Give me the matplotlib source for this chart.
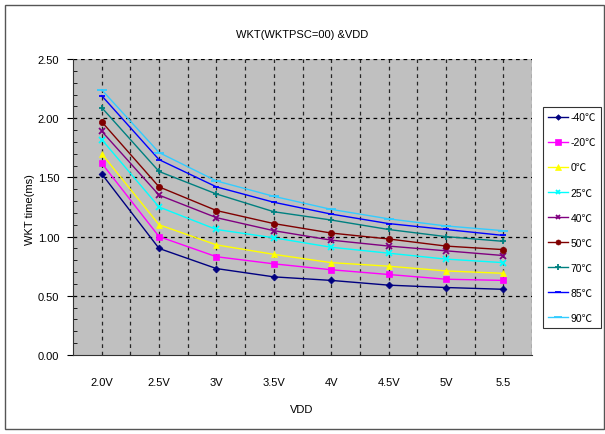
import matplotlib
matplotlib.use("Agg")
import matplotlib.pyplot as plt
from matplotlib.patches import Rectangle
import numpy as np

categories = ["2.0V", "2.5V", "3V", "3.5V", "4V", "4.5V", "5V", "5.5"]
series_names = ["-40℃", "-20℃", "0℃", "25℃", "40℃", "50℃", "70℃", "85℃", "90℃"]
t_m40 = [1.53, 0.90, 0.73, 0.66, 0.63, 0.59, 0.57, 0.555]
t_m20 = [1.62, 1.00, 0.83, 0.77, 0.72, 0.68, 0.64, 0.63]
t_0   = [1.70, 1.10, 0.93, 0.85, 0.78, 0.75, 0.71, 0.69]
t_25  = [1.82, 1.25, 1.06, 0.99, 0.91, 0.86, 0.81, 0.78]
t_40  = [1.89, 1.35, 1.16, 1.05, 0.97, 0.92, 0.88, 0.84]
t_50  = [1.97, 1.42, 1.22, 1.11, 1.03, 0.98, 0.92, 0.89]
t_70  = [2.09, 1.55, 1.36, 1.21, 1.14, 1.06, 1.00, 0.96]
t_85  = [2.19, 1.65, 1.42, 1.29, 1.19, 1.11, 1.06, 1.01]
t_90  = [2.24, 1.71, 1.47, 1.34, 1.23, 1.15, 1.09, 1.05]
series = [t_m40, t_m20, t_0, t_25, t_40, t_50, t_70, t_85, t_90]

colors = ["#000080", "#FF00FF", "#FFFF00", "#00FFFF", "#800080",
          "#800000", "#008080", "#0000FF", "#33CCFF"]
markers = ["D", "s", "^", "x", "x", "o", "+", "_", "_"]
msizes = [3.5, 5, 5, 4, 4, 4.5, 5, 5, 7]

plt.rcParams['font.family'] = ['Liberation Sans', 'Noto Sans CJK SC', 'DejaVu Sans']

fig = plt.figure(figsize=(6.05, 4.35), dpi=100)
fig.patches.append(Rectangle((5/605, 5/435), 599/605, 424/435, transform=fig.transFigure,
                             fill=False, edgecolor="#555555", linewidth=1.0))
ax = fig.add_axes([73/605, 1-356/435, (532-73)/605, (356-60)/435])
ax.set_facecolor("#C0C0C0")

x = np.arange(len(categories))
handles = []
for name, vals, c, m, ms in zip(series_names, series, colors, markers, msizes):
    h, = ax.plot(x, vals, color=c, marker=m, markersize=ms, linewidth=1.0,
                 markeredgewidth=1.3 if m in ("x", "+", "_") else 0.5,
                 markeredgecolor=c, label=name, zorder=3)
    handles.append(h)

ax.set_xlim(-0.5, len(categories) - 0.5)
ax.set_ylim(0, 2.5)
ax.set_yticks(np.arange(0, 2.51, 0.5))
ax.set_yticks(np.arange(0, 2.51, 0.1), minor=True)
ax.set_yticklabels([f"{v:.2f}" for v in np.arange(0, 2.51, 0.5)], fontsize=8)
ax.set_xticks(x)
ax.set_xticklabels(categories, fontsize=8)
ax.tick_params(axis="x", length=0, pad=16)
ax.tick_params(axis="y", which="major", length=4, direction="out", pad=6)
ax.tick_params(axis="y", which="minor", length=3, direction="in")

for yv in np.arange(0.5, 2.51, 0.5):
    ax.axhline(yv, color="black", linestyle=(0, (3, 3)), linewidth=0.9, zorder=1)
for xv in np.arange(0, len(categories) - 0.4, 0.5):
    ax.axvline(xv, color="black", linestyle=(0, (3, 3)), linewidth=0.9, zorder=1, alpha=0.8)

for s in ["top", "right"]:
    ax.spines[s].set_visible(False)
ax.spines["left"].set_color("#333333")
ax.spines["bottom"].set_color("#333333")

fig.text(302/605, 1-35/435, "WKT(WKTPSC=00) &VDD", ha="center", va="center", fontsize=8)
fig.text(302/605, 1-410/435, "VDD", ha="center", va="center", fontsize=8)
fig.text(30/605, 1-210/435, "WKT time(ms)", ha="center", va="center", rotation=90, fontsize=8)

leg = fig.legend(handles=handles, loc="upper left",
                 bbox_to_anchor=(543/605, 1-108/435), bbox_transform=fig.transFigure,
                 frameon=True, fancybox=False, edgecolor="black", fontsize=7.5,
                 handlelength=1.9, handletextpad=0.25, labelspacing=1.45,
                 borderpad=0.5, borderaxespad=0, markerscale=0.8)
leg.get_frame().set_linewidth(0.8)

fig.savefig("out.png", dpi=100)
